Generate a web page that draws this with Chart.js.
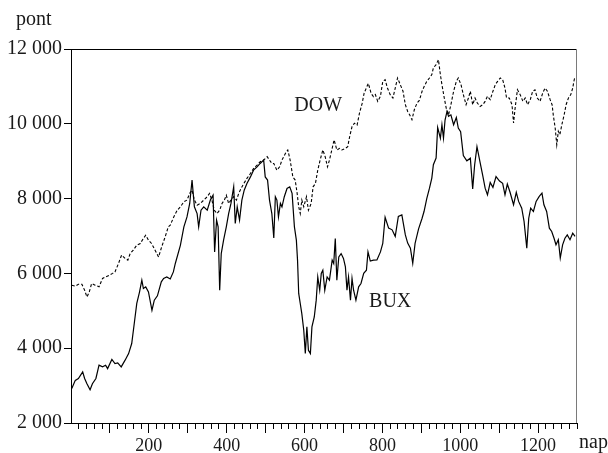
<!DOCTYPE html>
<html lang="hu">
<head>
    <meta charset="UTF-8">
    <title>BUX és DOW</title>
    <style>
        body {
            margin: 0;
            padding: 0;
            background-color: #ffffff;
        }

        #wrap {
            width: 608px;
            height: 453px;
        }
    </style>
</head>
<body>
    <div id="wrap">
        <canvas id="chartContainer"></canvas>
    </div>

    <script src="https://cdn.jsdelivr.net/npm/chart.js"></script>
    <script>
        // BUX (folytonos vonal): nap, pont
        const buxDays = [
            2, 11, 19, 30, 35, 41, 49, 55, 64, 72,
            81, 89, 94, 105, 113, 120, 129, 139, 148, 156,
            163, 169, 176, 182, 186, 192, 199, 208, 214, 222,
            232, 238, 246, 255, 263, 268, 281, 290, 298, 305,
            311, 317, 324, 328, 334, 341, 350, 358, 365, 369,
            374, 378, 382, 386, 392, 399, 405, 411, 418, 422,
            427, 433, 439, 445, 452, 461, 469, 478, 486, 495,
            499, 505, 510, 516, 521, 525, 529, 533, 538, 542,
            548, 555, 562, 568, 574, 579, 582, 585, 589, 593,
            598, 602, 606, 610, 615, 619, 625, 630, 634, 639,
            643, 647, 652, 658, 664, 671, 675, 679, 683, 688,
            694, 700, 705, 709, 713, 718, 722, 726, 732, 739,
            745, 752, 759, 763, 769, 777, 786, 795, 801, 807,
            816, 825, 833, 841, 850, 859, 865, 872, 878, 884,
            893, 902, 907, 914, 921, 927, 931, 938, 942, 949,
            953, 957, 961, 966, 970, 976, 983, 990, 995, 1001,
            1008, 1017, 1026, 1032, 1037, 1043, 1051, 1058, 1064, 1070,
            1077, 1084, 1092, 1101, 1109, 1115, 1121, 1128, 1137, 1144,
            1150, 1158, 1164, 1171, 1176, 1181, 1188, 1195, 1203, 1210,
            1215, 1222, 1229, 1235, 1241, 1246, 1252, 1257, 1263, 1269,
            1275, 1282, 1289, 1295
        ];
        const buxValues = [
            2920, 3140, 3190, 3365, 3190, 3050, 2890, 3050, 3190, 3545,
            3500, 3545, 3455, 3700, 3590, 3605, 3500, 3680, 3855, 4125,
            4700, 5200, 5500, 5820, 5595, 5640, 5505, 5015, 5285, 5400,
            5775, 5865, 5905, 5850, 6040, 6265, 6750, 7245, 7510, 7870,
            8495, 7780, 7600, 7245, 7690, 7780, 7690, 7960, 8090, 6575,
            7425, 7245, 5550, 6530, 6890, 7245, 7600, 7870, 8315, 7335,
            7780, 7425, 7960, 8225, 8405, 8580, 8760, 8850, 8940, 9030,
            8580, 8495, 7960, 7600, 6950, 8050, 7960, 7510, 7870, 7780,
            8050, 8270, 8315, 8140, 7245, 6890, 6355, 5465, 5195, 4925,
            4480, 3860, 4570, 3945, 3860, 4570, 4835, 5285, 5905, 5550,
            6000, 6085, 5550, 5905, 5820, 6355, 6265, 6935, 5820, 6440,
            6530, 6400, 6175, 5550, 5905, 5285, 5865, 5550, 5285, 5640,
            5730, 6000, 6085, 6575, 6330, 6355, 6360, 6575, 6800, 7500,
            7210, 7165, 6990, 7525, 7565, 7030, 6810, 6675, 6270, 6800,
            7190, 7475, 7655, 8000, 8280, 8550, 8905, 9085, 9900, 9615,
            9975, 9620, 10100, 10330, 10200, 10240, 9975, 10170, 9885, 9790,
            9150, 9010, 9080, 8260, 8900, 9390, 8970, 8610, 8280, 8100,
            8430, 8300, 8590, 8470, 8410, 8100, 8390, 8170, 7835, 8165,
            7925, 7745, 7390, 6675, 7475, 7745, 7655, 7925, 8060, 8145,
            7835, 7655, 7210, 7120, 6940, 6765, 6900, 6410, 6765, 6940,
            7030, 6900, 7075, 6990
        ];

        // DOW (szaggatott vonal): nap, pont
        const dowDays = [
            2, 11, 19, 28, 35, 41, 47, 53, 62, 72,
            81, 89, 98, 107, 113, 122, 130, 139, 146, 152,
            160, 169, 178, 186, 192, 199, 207, 216, 225, 233,
            242, 250, 255, 264, 273, 281, 290, 298, 305, 311,
            317, 324, 332, 341, 350, 356, 362, 368, 375, 382,
            388, 394, 399, 405, 411, 418, 425, 431, 437, 444,
            452, 461, 469, 478, 486, 495, 504, 510, 516, 521,
            529, 536, 542, 551, 557, 563, 570, 576, 581, 585,
            589, 593, 598, 605, 610, 617, 622, 628, 634, 640,
            647, 653, 659, 664, 670, 676, 683, 690, 696, 705,
            711, 716, 722, 728, 735, 741, 748, 753, 760, 764,
            771, 777, 782, 788, 795, 801, 807, 813, 820, 827,
            833, 839, 846, 853, 859, 865, 870, 876, 882, 889,
            895, 902, 907, 914, 921, 927, 931, 938, 944, 949,
            953, 959, 964, 970, 976, 983, 990, 995, 1002, 1008,
            1015, 1021, 1026, 1032, 1038, 1044, 1051, 1058, 1064, 1070,
            1077, 1084, 1090, 1096, 1103, 1109, 1115, 1119, 1126, 1133,
            1137, 1141, 1147, 1154, 1161, 1167, 1173, 1180, 1186, 1192,
            1198, 1205, 1212, 1218, 1224, 1231, 1236, 1239, 1244, 1248,
            1252, 1256, 1261, 1267, 1272, 1278, 1284, 1289, 1292, 1294
        ];
        const dowValues = [
            5685, 5660, 5710, 5710, 5550, 5370, 5505, 5730, 5685, 5640,
            5865, 5905, 5950, 6000, 6040, 6265, 6490, 6400, 6355, 6530,
            6620, 6755, 6800, 6935, 7020, 6890, 6800, 6620, 6440, 6710,
            6980, 7245, 7290, 7510, 7690, 7780, 7915, 7960, 8140, 8225,
            7960, 7825, 7870, 7960, 8050, 8140, 7960, 7690, 7600, 7690,
            7870, 7960, 8090, 7870, 7960, 8050, 7960, 8140, 8270, 8405,
            8540, 8670, 8805, 8895, 8985, 9030, 9120, 9030, 8940, 8940,
            8760, 8850, 9030, 9210, 9300, 9030, 8580, 8495, 8140, 7780,
            7600, 7960, 7780, 8050, 7690, 7870, 8315, 8405, 8760, 9030,
            9300, 9120, 8850, 9030, 9300, 9570, 9300, 9345, 9300, 9345,
            9390, 9660, 9925, 10015, 9965, 10280, 10545, 10815, 10990, 11080,
            10815, 10725, 10780, 10600, 10735, 11135, 11180, 10955, 10780, 10690,
            10955, 11225, 11045, 10870, 10510, 10330, 10240, 10110, 10375, 10555,
            10625, 10870, 10990, 11135, 11225, 11315, 11495, 11580, 11715, 11315,
            11045, 10690, 10420, 10240, 10510, 10870, 11135, 11225, 11045, 10780,
            10510, 10690, 10870, 10510, 10690, 10555, 10465, 10510, 10600, 10735,
            10645, 10870, 11045, 11135, 11225, 11180, 10955, 10690, 10690, 10510,
            10020, 10420, 10910, 10780, 10600, 10690, 10510, 10645, 10870, 10910,
            10690, 10600, 10825, 10955, 10870, 10645, 10510, 10240, 9885, 9440,
            9800, 9710, 9975, 10240, 10510, 10690, 10780, 10955, 11135, 11225
        ];

        // tengelyek
        const yTicks = [2000, 4000, 6000, 8000, 10000, 12000];
        const xLabels = [200, 400, 600, 800, 1000, 1200];

        // feliratok a rajzon belül (nap, pont)
        const seriesNames = ['DOW', 'BUX'];
        const nameDays = [635, 820];
        const nameValues = [10340, 5110];

        const serif = "'Liberation Serif', 'DejaVu Serif', serif";

        function toPoints(days, values) {
            return days.map((d, i) => ({ x: d, y: values[i] }));
        }

        const textPlugin = {
            id: 'texts',
            afterDraw(chart) {
                const ctx = chart.ctx;
                const area = chart.chartArea;
                const xs = chart.scales.x;
                const ys = chart.scales.y;
                ctx.save();

                // keret: felső és jobb oldal
                ctx.lineWidth = 1;
                ctx.strokeStyle = '#000000';
                ctx.beginPath();
                ctx.moveTo(area.left, area.top + 0.5);
                ctx.lineTo(area.right, area.top + 0.5);
                ctx.stroke();
                ctx.strokeStyle = '#7a7a7a';
                ctx.beginPath();
                ctx.moveTo(area.right - 0.5, area.top);
                ctx.lineTo(area.right - 0.5, area.bottom);
                ctx.stroke();

                ctx.fillStyle = '#1a1a1a';
                ctx.font = '20px ' + serif;
                ctx.textBaseline = 'alphabetic';
                ctx.textAlign = 'left';
                ctx.fillText('pont', 16, 25);
                ctx.fillText('nap', area.right + 2, 448);

                ctx.textAlign = 'center';
                seriesNames.forEach((name, i) => {
                    ctx.fillText(name, xs.getPixelForValue(nameDays[i]), ys.getPixelForValue(nameValues[i]));
                });
                ctx.restore();
            }
        };

        const ctx = document.getElementById('chartContainer').getContext('2d');
        const chart = new Chart(ctx, {
            type: 'line',
            data: {
                datasets: [
                    {
                        label: 'DOW',
                        data: toPoints(dowDays, dowValues),
                        borderColor: '#000000',
                        borderWidth: 1.1,
                        borderDash: [3, 2],
                        pointRadius: 0,
                        tension: 0
                    },
                    {
                        label: 'BUX',
                        data: toPoints(buxDays, buxValues),
                        borderColor: '#000000',
                        borderWidth: 1.2,
                        pointRadius: 0,
                        tension: 0
                    }
                ]
            },
            options: {
                responsive: true,
                maintainAspectRatio: false,
                animation: false,
                layout: {
                    padding: { top: 49, right: 31, bottom: 0, left: 0 }
                },
                plugins: {
                    legend: { display: false },
                    tooltip: { enabled: false }
                },
                scales: {
                    x: {
                        type: 'linear',
                        min: 0,
                        max: 1300,
                        afterFit(scale) { scale.height = 30; },
                        border: { color: '#000000', width: 1 },
                        grid: {
                            drawOnChartArea: false,
                            tickLength: 10,
                            tickColor: c => (c.tick && c.tick.value === 0) ? 'rgba(0,0,0,0)' : '#000000',
                            tickBorderDash: c => {
                                const v = c.tick ? Math.round(c.tick.value) : 0;
                                return (v % 100 === 0 && v < 1300) ? [] : [5, 20];
                            }
                        },
                        ticks: {
                            stepSize: 20,
                            autoSkip: false,
                            maxRotation: 0,
                            padding: 2,
                            color: '#1a1a1a',
                            font: { family: serif, size: 18 },
                            callback: value => xLabels.includes(Math.round(value)) ? String(Math.round(value)) : ''
                        }
                    },
                    y: {
                        min: yTicks[0],
                        max: yTicks[yTicks.length - 1],
                        afterFit(scale) { scale.width = 71; },
                        afterBuildTicks(scale) {
                            scale.ticks = yTicks.map(v => ({ value: v }));
                        },
                        border: { color: '#000000', width: 1 },
                        grid: {
                            drawOnChartArea: false,
                            tickLength: 7,
                            tickColor: '#000000'
                        },
                        ticks: {
                            padding: 2,
                            color: '#1a1a1a',
                            font: { family: serif, size: 20 },
                            callback: value => String(value).replace(/\B(?=(\d{3})+(?!\d))/g, ' ')
                        }
                    }
                }
            },
            plugins: [textPlugin]
        });
    </script>
</body>
</html>
